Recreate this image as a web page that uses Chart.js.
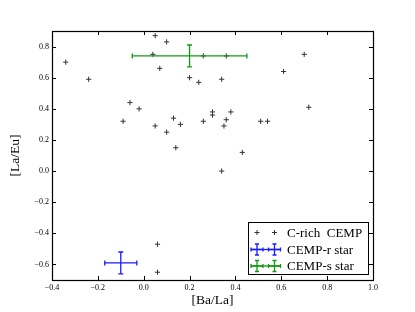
<!DOCTYPE html>
<html>
<head>
<meta charset="utf-8">
<script src="https://cdn.jsdelivr.net/npm/chart.js@4.4.1/dist/chart.umd.min.js"></script>
<style>
html, body { margin: 0; padding: 0; background: #fff; }
</style>
</head>
<body>
<canvas id="chart" width="415" height="312"></canvas>
<script>
// C-rich CEMP stars
var richX = [-0.34, -0.24, 0.05, 0.10, 0.04, 0.26, 0.36, 0.70, 0.07, 0.20, 0.24, 0.34,
             0.61, -0.06, -0.02, -0.09, 0.13, 0.05, 0.16, 0.26, 0.10, 0.14, 0.30, 0.30,
             0.38, 0.72, 0.36, 0.35, 0.51, 0.54, 0.43, 0.34, 0.06, 0.06];
var richY = [0.70, 0.59, 0.87, 0.83, 0.75, 0.74, 0.74, 0.75, 0.66, 0.60, 0.57, 0.59,
             0.64, 0.44, 0.40, 0.32, 0.34, 0.29, 0.30, 0.32, 0.25, 0.15, 0.38, 0.36,
             0.38, 0.41, 0.33, 0.29, 0.32, 0.32, 0.12, 0.00, -0.47, -0.65];

// CEMP-r star and CEMP-s star with their error bars
var rStarX = [-0.10], rStarY = [-0.59], rStarErrX = [0.07], rStarErrY = [0.07];
var sStarX = [0.20], sStarY = [0.74], sStarErrX = [0.25], sStarErrY = [0.07];

var xTicks = [-0.4, -0.2, 0.0, 0.2, 0.4, 0.6, 0.8, 1.0];
var yTicks = [-0.6, -0.4, -0.2, 0.0, 0.2, 0.4, 0.6, 0.8];

var serif = "'Liberation Serif', 'DejaVu Serif', serif";
var blue = '#1a1aff';
var green = '#139a13';

function fmt(v) {
    return v.toFixed(1).replace('-', '\u2212');
}

function errorBar(ctx, cx, cy, x0, x1, y0, y1, cap) {
    ctx.beginPath();
    ctx.moveTo(x0, cy); ctx.lineTo(x1, cy);
    ctx.moveTo(cx, y0); ctx.lineTo(cx, y1);
    ctx.moveTo(x0, cy - cap); ctx.lineTo(x0, cy + cap);
    ctx.moveTo(x1, cy - cap); ctx.lineTo(x1, cy + cap);
    ctx.moveTo(cx - cap, y0); ctx.lineTo(cx + cap, y0);
    ctx.moveTo(cx - cap, y1); ctx.lineTo(cx + cap, y1);
    ctx.stroke();
}

var errorBars = {
    id: 'errorBars',
    afterDatasetsDraw: function(chart) {
        var ctx = chart.ctx, xs = chart.scales.x, ys = chart.scales.y;
        var sets = [
            [rStarX, rStarY, rStarErrX, rStarErrY, blue],
            [sStarX, sStarY, sStarErrX, sStarErrY, green]
        ];
        ctx.save();
        ctx.lineWidth = 1.3;
        sets.forEach(function(s) {
            ctx.strokeStyle = s[4];
            for (var i = 0; i < s[0].length; i++) {
                errorBar(ctx,
                    xs.getPixelForValue(s[0][i]), ys.getPixelForValue(s[1][i]),
                    xs.getPixelForValue(s[0][i] - s[2][i]), xs.getPixelForValue(s[0][i] + s[2][i]),
                    ys.getPixelForValue(s[1][i] + s[3][i]), ys.getPixelForValue(s[1][i] - s[3][i]),
                    2.5);
            }
        });
        ctx.restore();
    }
};

// frame with inward ticks on all four sides
var frame = {
    id: 'frame',
    afterDraw: function(chart) {
        var ctx = chart.ctx, a = chart.chartArea, xs = chart.scales.x, ys = chart.scales.y;
        var t = 4;
        ctx.save();
        ctx.strokeStyle = '#000';
        ctx.lineWidth = 1;
        xTicks.forEach(function(v) {
            var px = Math.round(xs.getPixelForValue(v)) + 0.5;
            ctx.beginPath();
            ctx.moveTo(px, a.bottom); ctx.lineTo(px, a.bottom - t);
            ctx.moveTo(px, a.top); ctx.lineTo(px, a.top + t);
            ctx.stroke();
        });
        yTicks.forEach(function(v) {
            var py = Math.round(ys.getPixelForValue(v)) + 0.5;
            ctx.beginPath();
            ctx.moveTo(a.left, py); ctx.lineTo(a.left + t, py);
            ctx.moveTo(a.right, py); ctx.lineTo(a.right - t, py);
            ctx.stroke();
        });
        ctx.lineWidth = 1.2;
        ctx.strokeRect(a.left + 0.5, a.top + 0.5, a.right - a.left, a.bottom - a.top);
        ctx.restore();
    }
};

var legendBox = {
    id: 'legendBox',
    afterDraw: function(chart) {
        var ctx = chart.ctx, a = chart.chartArea;
        var w = 120, h = 52;
        var bx = a.right - 5 - w, by = a.bottom - 6 - h;
        ctx.save();
        ctx.fillStyle = '#fff';
        ctx.fillRect(bx, by, w, h);
        ctx.strokeStyle = '#000';
        ctx.lineWidth = 1;
        ctx.strokeRect(bx + 0.5, by + 0.5, w, h);

        var rows = [by + 10.5, by + 27.5, by + 44];
        var m1 = bx + 9, m2 = bx + 26.5;

        // plus markers
        ctx.strokeStyle = '#333';
        [m1, m2].forEach(function(m) {
            ctx.beginPath();
            ctx.moveTo(m - 2.5, rows[0]); ctx.lineTo(m + 2.5, rows[0]);
            ctx.moveTo(m, rows[0] - 2.5); ctx.lineTo(m, rows[0] + 2.5);
            ctx.stroke();
        });

        ctx.lineWidth = 1.3;
        [[blue, rows[1]], [green, rows[2]]].forEach(function(r) {
            ctx.strokeStyle = r[0];
            ctx.beginPath();
            ctx.moveTo(bx + 3, r[1]); ctx.lineTo(bx + 32, r[1]);
            ctx.stroke();
            [m1, m2].forEach(function(m) {
                errorBar(ctx, m, r[1], m - 6, m + 6, r[1] - 5.5, r[1] + 5.5, 2);
            });
        });

        ctx.fillStyle = '#000';
        ctx.font = '13px ' + serif;
        ctx.textBaseline = 'middle';
        ctx.fillText('C-rich  CEMP', bx + 39, rows[0] + 1);
        ctx.fillText('CEMP-r star', bx + 39, rows[1] + 1);
        ctx.fillText('CEMP-s star', bx + 39, rows[2] + 1);
        ctx.restore();
    }
};

var richPoints = richX.map(function(x, i) { return { x: x, y: richY[i] }; });

new Chart(document.getElementById('chart'), {
    type: 'scatter',
    data: {
        datasets: [{
            label: 'C-rich  CEMP',
            data: richPoints,
            pointStyle: 'cross',
            pointRadius: 2.6,
            pointHoverRadius: 2.6,
            borderColor: '#333',
            backgroundColor: '#333',
            borderWidth: 1
        }]
    },
    options: {
        responsive: false,
        animation: false,
        devicePixelRatio: 1,
        layout: { padding: { top: 31, right: 42, left: 0, bottom: 0 } },
        plugins: {
            legend: { display: false },
            tooltip: { enabled: false }
        },
        scales: {
            x: {
                type: 'linear',
                min: -0.4,
                max: 1.0,
                afterBuildTicks: function(scale) {
                    scale.ticks = xTicks.map(function(v) { return { value: v }; });
                },
                afterFit: function(scale) { scale.height = 32; },
                grid: { display: false, drawTicks: false },
                border: { display: false },
                ticks: {
                    color: '#000',
                    padding: 3,
                    maxRotation: 0,
                    font: { family: serif, size: 8 },
                    callback: function(v) { return fmt(v); }
                },
                title: {
                    display: true,
                    text: '[Ba/La]',
                    color: '#000',
                    font: { family: serif, size: 13.5 },
                    padding: { top: 0, bottom: 3 }
                }
            },
            y: {
                type: 'linear',
                min: -0.7,
                max: 0.9,
                afterBuildTicks: function(scale) {
                    scale.ticks = yTicks.map(function(v) { return { value: v }; });
                },
                afterFit: function(scale) { scale.width = 52; },
                grid: { display: false, drawTicks: false },
                border: { display: false },
                ticks: {
                    color: '#000',
                    padding: 3,
                    font: { family: serif, size: 8 },
                    callback: function(v) { return fmt(v); }
                },
                title: {
                    display: true,
                    text: '[La/Eu]',
                    color: '#000',
                    font: { family: serif, size: 13.5 },
                    padding: { top: 7, bottom: 0 }
                }
            }
        }
    },
    plugins: [errorBars, frame, legendBox]
});
</script>
</body>
</html>
